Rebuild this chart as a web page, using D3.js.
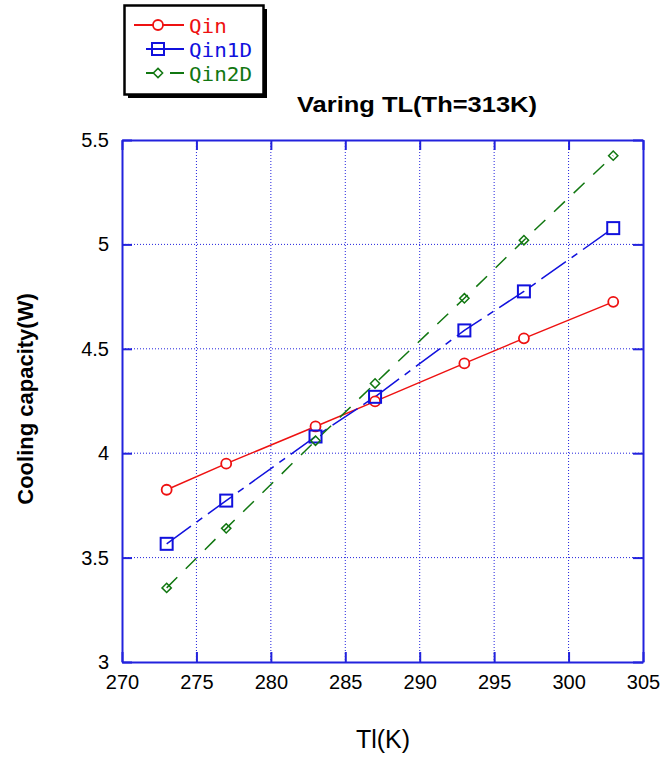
<!DOCTYPE html>
<html>
<head>
<meta charset="utf-8">
<script src="https://cdn.jsdelivr.net/npm/d3@7"></script>
<style>
  body { margin: 0; background: #fff; }
</style>
</head>
<body>
<div id="chart"></div>
<script>
// data
const tl = [273, 277, 283, 287, 293, 297, 303];
const qin = [3.825, 3.95, 4.128, 4.248, 4.43, 4.55, 4.725];
const qin1D = [3.566, 3.773, 4.08, 4.27, 4.588, 4.775, 5.078];
const qin2D = [3.355, 3.64, 4.06, 4.334, 4.742, 5.02, 5.425];
const xTicks = [270, 275, 280, 285, 290, 295, 300, 305];
const yTicks = [3, 3.5, 4, 4.5, 5, 5.5];
const seriesNames = ["Qin", "Qin1D", "Qin2D"];

const W = 662, H = 757;
const margin = { top: 140, right: 19, bottom: 95, left: 122 };
const width = W - margin.left - margin.right,
  height = H - margin.top - margin.bottom;
const axisColor = "#2222dd";
const sans = "Liberation Sans, Arial, sans-serif";

const series = [
  { name: seriesNames[0], values: qin, color: "#ee1111", dash: null, marker: "circle" },
  { name: seriesNames[1], values: qin1D, color: "#1111dd", dash: "30,7,7,7", marker: "square" },
  { name: seriesNames[2], values: qin2D, color: "#117711", dash: "15,12", marker: "diamond" }
];

const svg = d3.select("#chart").append("svg")
  .attr("width", W).attr("height", H);
const g = svg.append("g")
  .attr("transform", "translate(" + margin.left + "," + margin.top + ")");

const x = d3.scaleLinear().domain([270, 305]).range([0, width]);
const y = d3.scaleLinear().domain([3, 5.5]).range([height, 0]);

// grid
g.append("g").selectAll("line").data(xTicks.slice(1, -1)).enter().append("line")
  .attr("x1", d => x(d)).attr("x2", d => x(d)).attr("y1", 0).attr("y2", height)
  .attr("stroke", axisColor).attr("stroke-width", 1).attr("stroke-dasharray", "1,2");
g.append("g").selectAll("line").data(yTicks.slice(1, -1)).enter().append("line")
  .attr("y1", d => y(d)).attr("y2", d => y(d)).attr("x1", 0).attr("x2", width)
  .attr("stroke", axisColor).attr("stroke-width", 1).attr("stroke-dasharray", "1,2");

// axes (ticks inward on all four sides)
const styleAxis = sel => {
  sel.select(".domain").attr("stroke", axisColor).attr("stroke-width", 2);
  sel.selectAll(".tick line").attr("stroke", axisColor).attr("stroke-width", 2);
  sel.selectAll("text").attr("font-family", sans)
    .attr("font-size", 20).attr("fill", "#000");
};
g.append("g").attr("transform", "translate(0," + height + ")")
  .call(d3.axisBottom(x).tickValues(xTicks).tickSizeInner(-10).tickSizeOuter(0).tickPadding(13))
  .call(styleAxis);
g.append("g")
  .call(d3.axisLeft(y).tickValues(yTicks).tickFormat(d3.format("")).tickSizeInner(-10).tickSizeOuter(0).tickPadding(13))
  .call(styleAxis);
g.append("g")
  .call(d3.axisTop(x).tickValues(xTicks).tickSizeInner(-10).tickSizeOuter(0).tickFormat(""))
  .call(styleAxis);
g.append("g").attr("transform", "translate(" + width + ",0)")
  .call(d3.axisRight(y).tickValues(yTicks).tickSizeInner(-10).tickSizeOuter(0).tickFormat(""))
  .call(styleAxis);

// lines
const line = d3.line().x((d, i) => x(tl[i])).y(d => y(d));
series.forEach(s => {
  g.append("path").datum(s.values)
    .attr("fill", "none").attr("stroke", s.color).attr("stroke-width", 1.5)
    .attr("stroke-dasharray", s.dash).attr("d", line);
});

// markers
const drawMarker = (sel, type, color, cx, cy) => {
  if (type === "circle") {
    sel.append("circle").attr("cx", cx).attr("cy", cy).attr("r", 5)
      .attr("fill", "#fff").attr("stroke", color).attr("stroke-width", 1.8);
  } else if (type === "square") {
    sel.append("rect").attr("x", cx - 6).attr("y", cy - 6).attr("width", 12).attr("height", 12)
      .attr("fill", "none").attr("stroke", color).attr("stroke-width", 2);
  } else {
    sel.append("path").attr("d", d3.symbol(d3.symbolDiamond2, 55)())
      .attr("transform", "translate(" + cx + "," + cy + ")")
      .attr("fill", "none").attr("stroke", color).attr("stroke-width", 1.5);
  }
};
series.forEach(s => {
  s.values.forEach((v, i) => drawMarker(g, s.marker, s.color, x(tl[i]), y(v)));
});

// title and labels
svg.append("text").attr("x", 417).attr("y", 112).attr("text-anchor", "middle")
  .attr("font-family", sans).attr("font-weight", "bold")
  .attr("font-size", 22).attr("textLength", 240).attr("lengthAdjust", "spacingAndGlyphs")
  .text("Varing TL(Th=313K)");
svg.append("text").attr("transform", "translate(33," + (margin.top + height / 2 - 2) + ") rotate(-90)")
  .attr("text-anchor", "middle")
  .attr("font-family", sans).attr("font-weight", "bold")
  .attr("font-size", 22).text("Cooling capacity(W)");
svg.append("text").attr("x", 383).attr("y", 748).attr("text-anchor", "middle")
  .attr("font-family", sans)
  .attr("font-size", 25).text("Tl(K)");

// legend with shadow
const lg = svg.append("g");
lg.append("rect").attr("x", 128).attr("y", 9).attr("width", 139).attr("height", 89).attr("fill", "#000");
lg.append("rect").attr("x", 124.5).attr("y", 5.5).attr("width", 139).attr("height", 89)
  .attr("fill", "#fff").attr("stroke", "#000").attr("stroke-width", 2.5);
series.forEach((s, i) => {
  const ly = 25 + i * 24;
  const x1 = i === 0 ? 134 : 146;
  lg.append("line").attr("x1", x1).attr("x2", 184).attr("y1", ly).attr("y2", ly)
    .attr("stroke", s.color).attr("stroke-width", 1.8)
    .attr("stroke-dasharray", i === 2 ? "8,16,14" : null);
  drawMarker(lg, s.marker, s.color, 158, ly);
  lg.append("text").attr("x", 189).attr("y", ly + 8)
    .attr("font-family", "DejaVu Sans Mono, Liberation Mono, monospace")
    .attr("font-size", 20).attr("fill", s.color)
    .attr("textLength", s.name.length * 12.6).attr("lengthAdjust", "spacingAndGlyphs")
    .text(s.name);
});
</script>
</body>
</html>
